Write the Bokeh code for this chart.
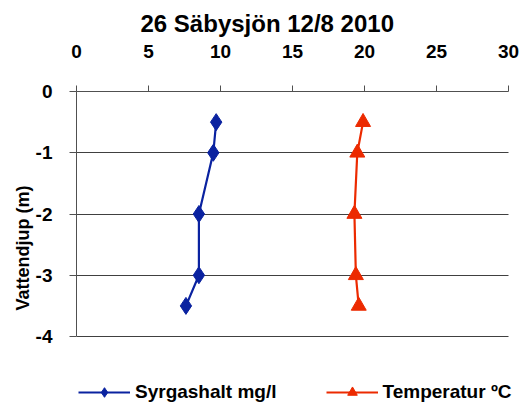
from bokeh.plotting import figure
from bokeh.models import Range1d, FixedTicker, Legend, LegendItem, Title, PrintfTickFormatter
from bokeh.embed import file_html
from bokeh.resources import INLINE

depth = [-0.5, -1, -2, -3, -3.5]
oxygen = [9.7, 9.5, 8.5, 8.5, 7.6]
temp_depth = [-0.5, -1, -2, -3, -3.5]
temperature = [19.9, 19.5, 19.3, 19.4, 19.6]
x_ticks = [0, 5, 10, 15, 20, 25, 30]
y_ticks = [0, -1, -2, -3, -4]

FONT = "Liberation Sans"
BLUE = "#0A22A0"
RED = "#EC2A00"

W, H = 520, 404
LEFT, TOP, RIGHT, AXIS_BOTTOM = 76, 91, 508, 336
px_per_unit_y = (AXIS_BOTTOM - TOP) / 4.0
px_per_unit_x = (RIGHT - LEFT) / 30.0
y_lo = -(H - TOP) / px_per_unit_y      # frame extends below -4 to hold the legend
x_hi = 30 + (W - RIGHT) / px_per_unit_x  # frame extends right of 30 so the legend text fits

p = figure(width=W, height=H, output_backend="svg", toolbar_location=None,
           x_range=Range1d(0, x_hi), y_range=Range1d(y_lo, 0),
           x_axis_location="above",
           min_border_left=LEFT, min_border_right=0, min_border_top=TOP, min_border_bottom=0)
p.outline_line_alpha = 0
p.background_fill_color = "white"
p.border_fill_color = "white"

title = Title(text="26 Säbysjön 12/8 2010", align="left", offset=64,
              text_font=FONT, text_font_size="24px", text_font_style="bold", text_color="black")
p.add_layout(title, "above")

ylab = Title(text="Vattendjup (m)", align="center", offset=17, standoff=0,
             text_font=FONT, text_font_size="18px", text_font_style="bold", text_color="black")
p.add_layout(ylab, "left")

fmt = PrintfTickFormatter(format="%d")

xa = p.xaxis[0]
xa.ticker = FixedTicker(ticks=x_ticks)
xa.formatter = fmt
xa.bounds = (0, 30)
xa.minor_tick_line_alpha = 0
xa.major_tick_out = 6
xa.major_tick_in = 0
xa.major_label_standoff = 28
xa.major_label_text_font = FONT
xa.major_label_text_font_size = "19px"
xa.major_label_text_font_style = "bold"
xa.major_label_text_color = "black"
xa.axis_line_color = "#505050"
xa.major_tick_line_color = "#505050"

ya = p.yaxis[0]
ya.ticker = FixedTicker(ticks=y_ticks)
ya.formatter = fmt
ya.bounds = (-4, 0)
ya.minor_tick_line_alpha = 0
ya.major_tick_out = 7
ya.major_tick_in = 0
ya.major_label_standoff = 17
ya.major_label_text_font = FONT
ya.major_label_text_font_size = "19px"
ya.major_label_text_font_style = "bold"
ya.major_label_text_color = "black"
ya.axis_line_color = "#505050"
ya.major_tick_line_color = "#505050"

p.xgrid.grid_line_alpha = 0
p.ygrid.ticker = FixedTicker(ticks=y_ticks)
p.ygrid.cross_bounds = (0, 30)
p.ygrid.grid_line_color = "#404040"
p.ygrid.grid_line_width = 1

l1 = p.line(oxygen, depth, line_color=BLUE, line_width=2.2)
s1 = p.scatter(oxygen, depth, marker="diamond", size=17, fill_color=BLUE, line_color=BLUE)
l2 = p.line(temperature, temp_depth, line_color=RED, line_width=2.2)
s2 = p.scatter(temperature, temp_depth, marker="triangle", size=15, fill_color=RED, line_color=RED)

legend = Legend(items=[LegendItem(label="Syrgashalt mg/l", renderers=[l1, s1]),
                       LegendItem(label="Temperatur ºC", renderers=[l2, s2])],
                orientation="horizontal", location=(2, 0),
                padding=0, margin=0, spacing=49, glyph_width=52, glyph_height=24,
                label_standoff=5, label_height=16, border_line_alpha=0, background_fill_alpha=0,
                label_text_font=FONT, label_text_font_size="19px",
                label_text_font_style="bold", label_text_color="black")
p.add_layout(legend, "center")

open("out.html", "w").write(file_html(p, INLINE))
